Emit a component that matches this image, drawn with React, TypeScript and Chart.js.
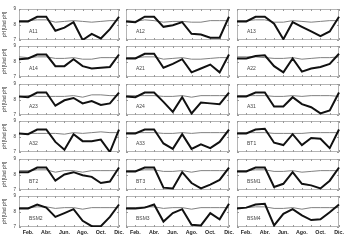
import React, { useEffect, useRef } from 'react';
import { Chart, registerables } from 'chart.js';
Chart.register(...registerables);

const months = ['Ene.', 'Feb.', 'Mar.', 'Abr.', 'May.', 'Jun.', 'Jul.', 'Ago.', 'Sep.', 'Oct.', 'Nov.', 'Dic.'];
const yTickValues = [7, 8, 9];
const yTitle = 'pH [Und pH]';

const a11Thick = [8.2, 8.2, 8.5, 8.5, 7.6, 7.8, 8.15, 7.0, 7.4, 7.1, 7.7, 8.5];
const a11Thin = [8.25, 8.25, 8.3, 8.3, 8.15, 8.2, 8.25, 8.2, 8.15, 8.2, 8.25, 8.25];
const a12Thick = [8.2, 8.15, 8.5, 8.5, 7.85, 7.95, 8.15, 7.4, 7.35, 7.15, 7.15, 8.5];
const a12Thin = [8.25, 8.2, 8.3, 8.25, 8.15, 8.2, 8.2, 8.15, 8.15, 8.25, 8.25, 8.25];
const a13Thick = [8.2, 8.2, 8.5, 8.5, 8.05, 7.05, 8.15, 7.85, 7.55, 7.25, 7.55, 8.5];
const a13Thin = [8.25, 8.25, 8.3, 8.3, 8.15, 8.15, 8.25, 8.2, 8.15, 8.2, 8.25, 8.25];
const a14Thick = [8.15, 8.2, 8.45, 8.45, 7.7, 7.7, 8.15, 7.7, 7.55, 7.6, 7.65, 8.45];
const a14Thin = [8.3, 8.25, 8.3, 8.3, 8.2, 8.2, 8.25, 8.15, 8.15, 8.25, 8.25, 8.25];
const a21Thick = [8.2, 8.2, 8.5, 8.5, 7.6, 7.85, 8.15, 7.3, 7.55, 7.8, 7.3, 8.45];
const a21Thin = [8.25, 8.25, 8.3, 8.3, 8.15, 8.2, 8.25, 8.15, 8.15, 8.2, 8.25, 8.25];
const a22Thick = [8.2, 8.2, 8.35, 8.4, 7.7, 7.3, 8.2, 7.35, 7.55, 7.65, 7.85, 8.5];
const a22Thin = [8.3, 8.3, 8.3, 8.25, 8.2, 8.2, 8.25, 8.15, 8.2, 8.25, 8.25, 8.3];
const a23Thick = [8.2, 8.15, 8.45, 8.45, 7.6, 7.95, 8.1, 7.75, 7.9, 7.65, 7.75, 8.45];
const a23Thin = [8.2, 8.25, 8.2, 8.2, 8.2, 8.2, 8.25, 8.15, 8.3, 8.3, 8.25, 8.25];
const a24Thick = [8.2, 8.15, 8.45, 8.45, 7.85, 7.2, 8.15, 7.1, 7.8, 7.75, 7.7, 8.45];
const a24Thin = [8.25, 8.25, 8.25, 8.25, 8.2, 8.2, 8.25, 8.15, 8.25, 8.25, 8.25, 8.25];
const a31Thick = [8.2, 8.2, 8.45, 8.45, 7.55, 7.55, 8.15, 7.7, 7.5, 7.1, 7.3, 8.45];
const a31Thin = [8.25, 8.25, 8.25, 8.25, 8.2, 8.2, 8.25, 8.2, 8.25, 8.25, 8.25, 8.2];
const a32Thick = [8.2, 8.15, 8.45, 8.45, 7.65, 7.15, 8.15, 7.7, 7.7, 7.8, 7.0, 8.45];
const a32Thin = [8.2, 8.2, 8.2, 8.2, 8.2, 8.15, 8.25, 8.2, 8.25, 8.3, 8.25, 8.25];
const a33Thick = [8.2, 8.2, 8.45, 8.45, 7.55, 7.2, 8.15, 7.2, 7.5, 7.25, 7.65, 8.45];
const a33Thin = [8.25, 8.25, 8.25, 8.25, 8.2, 8.2, 8.25, 8.2, 8.25, 8.25, 8.25, 8.25];
const bt1Thick = [8.2, 8.2, 8.45, 8.5, 7.6, 7.45, 8.15, 7.45, 7.9, 7.85, 7.25, 8.45];
const bt1Thin = [8.25, 8.25, 8.25, 8.25, 8.2, 8.2, 8.2, 8.2, 8.25, 8.25, 8.25, 8.25];
const bt2Thick = [8.15, 8.15, 8.45, 8.45, 7.6, 8.0, 8.15, 7.95, 7.85, 7.45, 7.55, 8.45];
const bt2Thin = [8.25, 8.25, 8.3, 8.3, 8.15, 8.25, 8.25, 8.15, 8.25, 8.25, 8.25, 8.25];
const bt3Thick = [8.2, 8.2, 8.45, 8.45, 7.15, 7.1, 8.15, 7.45, 7.1, 7.35, 7.65, 8.45];
const bt3Thin = [8.25, 8.25, 8.3, 8.3, 8.2, 8.2, 8.25, 8.15, 8.25, 8.25, 8.25, 8.25];
const bsm1Thick = [8.2, 8.2, 8.45, 8.45, 7.2, 7.4, 8.15, 7.4, 7.3, 7.1, 7.6, 8.45];
const bsm1Thin = [8.25, 8.25, 8.3, 8.3, 8.2, 8.2, 8.25, 8.15, 8.2, 8.25, 8.25, 8.25];
const bsm2Thick = [8.2, 8.2, 8.45, 8.25, 7.65, 7.9, 8.15, 7.4, 7.05, 7.05, 7.65, 8.45];
const bsm2Thin = [8.25, 8.25, 8.3, 8.3, 8.2, 8.25, 8.25, 8.15, 8.25, 8.25, 8.25, 8.25];
const bsm3Thick = [8.2, 8.2, 8.25, 8.45, 7.35, 7.9, 8.15, 7.15, 7.1, 7.9, 7.5, 8.5];
const bsm3Thin = [8.25, 8.25, 8.3, 8.3, 8.2, 8.25, 8.25, 8.15, 8.25, 8.25, 8.25, 8.25];
const bsm4Thick = [8.2, 8.25, 8.45, 8.5, 7.1, 7.85, 8.15, 7.75, 7.45, 7.5, 7.95, 8.45];
const bsm4Thin = [8.25, 8.25, 8.3, 8.3, 8.2, 8.2, 8.25, 8.15, 8.25, 8.25, 8.25, 8.25];

const panelNames = ['A11', 'A12', 'A13', 'A14', 'A21', 'A22', 'A23', 'A24', 'A31', 'A32', 'A33', 'BT1', 'BT2', 'BT3', 'BSM1', 'BSM2', 'BSM3', 'BSM4'];
const thickSeries = [a11Thick, a12Thick, a13Thick, a14Thick, a21Thick, a22Thick, a23Thick, a24Thick, a31Thick, a32Thick, a33Thick, bt1Thick, bt2Thick, bt3Thick, bsm1Thick, bsm2Thick, bsm3Thick, bsm4Thick];
const thinSeries = [a11Thin, a12Thin, a13Thin, a14Thin, a21Thin, a22Thin, a23Thin, a24Thin, a31Thin, a32Thin, a33Thin, bt1Thin, bt2Thin, bt3Thin, bsm1Thin, bsm2Thin, bsm3Thin, bsm4Thin];

// layout (pixels)
const COL_L = [19, 126, 237];
const COL_R = [119, 229, 339];
const ROW_T = [9, 46, 84, 121, 159, 196];
const ROW_H = 31;
const PAD = 6;
const XH = 12;
const FONT = '"Liberation Sans", Arial, sans-serif';

const framePlugin = {
  id: 'frame',
  beforeDatasetsDraw(chart: any, _args: any, opts: any) {
    const { ctx, chartArea: a, scales } = chart;
    ctx.save();
    ctx.strokeStyle = '#b4b4b4';
    ctx.lineWidth = 1;
    ctx.strokeRect(a.left + 0.5, a.top + 0.5, a.width - 1, a.height - 1);
    ctx.strokeStyle = '#999';
    ctx.beginPath();
    const xs = scales.x;
    xs.ticks.forEach((_t: any, i: number) => {
      const px = Math.round(xs.getPixelForTick(i)) + 0.5;
      ctx.moveTo(px, a.bottom);
      ctx.lineTo(px, a.bottom - 2);
      ctx.moveTo(px, a.top);
      ctx.lineTo(px, a.top + 2);
    });
    const ys = scales.y;
    ys.ticks.forEach((t: any) => {
      const py = Math.round(ys.getPixelForValue(t.value)) + 0.5;
      ctx.moveTo(a.left, py);
      ctx.lineTo(a.left + 2, py);
      ctx.moveTo(a.right, py);
      ctx.lineTo(a.right - 2, py);
    });
    ctx.stroke();
    ctx.fillStyle = '#444';
    ctx.font = '5px ' + FONT;
    ctx.textBaseline = 'middle';
    ctx.textAlign = 'left';
    ctx.fillText(opts.text, a.left + 10, a.top + a.height * 0.74);
    ctx.restore();
  },
};

function Panel({ idx }: { idx: number }) {
  const ref = useRef<HTMLCanvasElement>(null);
  const r = Math.floor(idx / 3);
  const c = idx % 3;
  const W = COL_R[c] - COL_L[c];
  const left = c === 0 ? 0 : COL_L[c] - PAD;
  const top = ROW_T[r] - PAD;
  const cw = (c === 0 ? COL_L[0] : PAD) + W + PAD;
  const ch = PAD + ROW_H + (r === 5 ? XH : PAD);
  const showX = r === 5;
  const showY = c === 0;

  useEffect(() => {
    const chart = new Chart(ref.current as HTMLCanvasElement, {
      type: 'line',
      data: {
        labels: months,
        datasets: [
          {
            data: thickSeries[idx],
            borderColor: '#111',
            borderWidth: 2,
            pointRadius: 0,
            tension: 0,
            fill: false,
          },
          {
            data: thinSeries[idx],
            borderColor: '#808080',
            borderWidth: 1,
            pointRadius: 0,
            tension: 0,
            fill: false,
          },
        ],
      },
      options: {
        animation: false,
        responsive: false,
        events: [],
        layout: {
          padding: { left: showY ? 0 : PAD, top: PAD, right: PAD, bottom: showX ? 0 : PAD },
        },
        plugins: {
          legend: { display: false },
          tooltip: { enabled: false },
          frame: { text: panelNames[idx] },
        } as any,
        scales: {
          x: {
            type: 'category',
            offset: false,
            display: showX,
            grid: { display: false, drawTicks: false },
            border: { display: false },
            ticks: {
              autoSkip: false,
              maxRotation: 0,
              minRotation: 0,
              padding: 2,
              color: '#222',
              font: { family: FONT, size: 5.3, weight: 'bold' },
              callback: (_v: any, i: number) => (i % 2 === 1 ? months[i] : ''),
            },
            afterFit: (s: any) => {
              if (!showX) return;
              s.height = XH;
              s.paddingLeft = 0;
              s.paddingRight = 0;
            },
          },
          y: {
            min: yTickValues[0],
            max: yTickValues[yTickValues.length - 1],
            display: showY,
            grid: { display: false, drawTicks: false },
            border: { display: false },
            afterBuildTicks: (s: any) => {
              s.ticks = yTickValues.map((v) => ({ value: v }));
            },
            ticks: {
              padding: 3,
              color: '#333',
              font: { family: FONT, size: 4.5 },
            },
            title: {
              display: true,
              text: yTitle,
              color: '#333',
              padding: { top: 2.5, bottom: 0 },
              font: { family: FONT, size: 4.5 },
            },
            afterFit: (s: any) => {
              if (!showY) return;
              s.width = COL_L[0];
              s.paddingTop = 0;
              s.paddingBottom = 0;
            },
          },
        },
      } as any,
      plugins: [framePlugin],
    });
    return () => chart.destroy();
  }, [idx]);

  return (
    <canvas
      ref={ref}
      width={cw}
      height={ch}
      style={{ position: 'absolute', left, top, width: cw, height: ch }}
    />
  );
}

export default function App() {
  return (
    <div style={{ position: 'fixed', left: 0, top: 0, width: 349, height: 242, background: '#fff', overflow: 'hidden' }}>
      {panelNames.map((_n, i) => (
        <Panel key={i} idx={i} />
      ))}
    </div>
  );
}
